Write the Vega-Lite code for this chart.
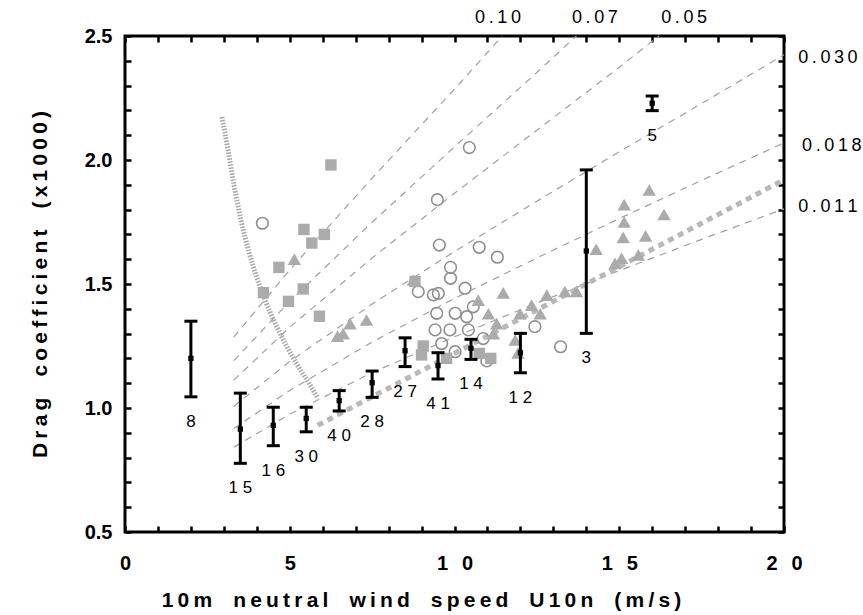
{
  "$schema": "https://vega.github.io/schema/vega-lite/v6.json",
  "width": 659,
  "height": 496,
  "autosize": {"type": "none"},
  "padding": {"left": 125, "top": 36, "right": 79, "bottom": 83},
  "background": "white",
  "config": {"view": {"stroke": "black", "strokeWidth": 3}, "font": "Liberation Sans"},
  "data": {"values": [
    {"set": "curve", "a": "0.10", "u": 3.3, "cd": 1.286}, {"set": "curve", "a": "0.10", "u": 5, "cd": 1.557}, {"set": "curve", "a": "0.10", "u": 7.5, "cd": 1.927}, {"set": "curve", "a": "0.10", "u": 10, "cd": 2.286}, {"set": "curve", "a": "0.10", "u": 11.45, "cd": 2.5},
    {"set": "curve", "a": "0.07", "u": 3.3, "cd": 1.191}, {"set": "curve", "a": "0.07", "u": 5, "cd": 1.43}, {"set": "curve", "a": "0.07", "u": 7.5, "cd": 1.749}, {"set": "curve", "a": "0.07", "u": 10, "cd": 2.053}, {"set": "curve", "a": "0.07", "u": 12.5, "cd": 2.353}, {"set": "curve", "a": "0.07", "u": 13.7, "cd": 2.5},
    {"set": "curve", "a": "0.05", "u": 3.3, "cd": 1.112}, {"set": "curve", "a": "0.05", "u": 5, "cd": 1.326}, {"set": "curve", "a": "0.05", "u": 7.5, "cd": 1.605}, {"set": "curve", "a": "0.05", "u": 10, "cd": 1.866}, {"set": "curve", "a": "0.05", "u": 12.5, "cd": 2.12}, {"set": "curve", "a": "0.05", "u": 15, "cd": 2.374}, {"set": "curve", "a": "0.05", "u": 16.2, "cd": 2.5},
    {"set": "curve", "a": "0.030", "u": 3.3, "cd": 1.006}, {"set": "curve", "a": "0.030", "u": 5, "cd": 1.188}, {"set": "curve", "a": "0.030", "u": 7.5, "cd": 1.419}, {"set": "curve", "a": "0.030", "u": 10, "cd": 1.631}, {"set": "curve", "a": "0.030", "u": 12.5, "cd": 1.834}, {"set": "curve", "a": "0.030", "u": 15, "cd": 2.033}, {"set": "curve", "a": "0.030", "u": 17.5, "cd": 2.228}, {"set": "curve", "a": "0.030", "u": 20, "cd": 2.424},
    {"set": "curve", "a": "0.018", "u": 3.3, "cd": 0.917}, {"set": "curve", "a": "0.018", "u": 5, "cd": 1.071}, {"set": "curve", "a": "0.018", "u": 7.5, "cd": 1.266}, {"set": "curve", "a": "0.018", "u": 10, "cd": 1.442}, {"set": "curve", "a": "0.018", "u": 12.5, "cd": 1.605}, {"set": "curve", "a": "0.018", "u": 15, "cd": 1.764}, {"set": "curve", "a": "0.018", "u": 17.5, "cd": 1.918}, {"set": "curve", "a": "0.018", "u": 20, "cd": 2.069},
    {"set": "curve", "a": "0.011", "u": 3.3, "cd": 0.842}, {"set": "curve", "a": "0.011", "u": 5, "cd": 0.975}, {"set": "curve", "a": "0.011", "u": 7.5, "cd": 1.143}, {"set": "curve", "a": "0.011", "u": 10, "cd": 1.287}, {"set": "curve", "a": "0.011", "u": 12.5, "cd": 1.423}, {"set": "curve", "a": "0.011", "u": 15, "cd": 1.554}, {"set": "curve", "a": "0.011", "u": 17.5, "cd": 1.68}, {"set": "curve", "a": "0.011", "u": 20, "cd": 1.803},
    {"set": "band", "u": 5.85, "cd": 0.93}, {"set": "band", "u": 20, "cd": 1.92},
    {"set": "smooth", "u": 2.944, "cd": 2.173}, {"set": "smooth", "u": 3.126, "cd": 2.04}, {"set": "smooth", "u": 3.308, "cd": 1.899}, {"set": "smooth", "u": 3.52, "cd": 1.758},
    {"set": "smooth", "u": 3.763, "cd": 1.629}, {"set": "smooth", "u": 4.006, "cd": 1.524}, {"set": "smooth", "u": 4.249, "cd": 1.435}, {"set": "smooth", "u": 4.552, "cd": 1.343},
    {"set": "smooth", "u": 4.886, "cd": 1.254}, {"set": "smooth", "u": 5.25, "cd": 1.169}, {"set": "smooth", "u": 5.615, "cd": 1.093}, {"set": "smooth", "u": 5.857, "cd": 1.04},
    {"set": "circle", "u": 4.17, "cd": 1.745}, {"set": "circle", "u": 10.45, "cd": 2.05}, {"set": "circle", "u": 9.48, "cd": 1.84}, {"set": "circle", "u": 9.54, "cd": 1.657},
    {"set": "circle", "u": 10.75, "cd": 1.648}, {"set": "circle", "u": 11.3, "cd": 1.608}, {"set": "circle", "u": 9.88, "cd": 1.567}, {"set": "circle", "u": 9.88, "cd": 1.523},
    {"set": "circle", "u": 8.9, "cd": 1.469}, {"set": "circle", "u": 9.51, "cd": 1.462}, {"set": "circle", "u": 10.32, "cd": 1.483}, {"set": "circle", "u": 9.36, "cd": 1.456},
    {"set": "circle", "u": 9.46, "cd": 1.382}, {"set": "circle", "u": 10.02, "cd": 1.382}, {"set": "circle", "u": 10.37, "cd": 1.368}, {"set": "circle", "u": 9.41, "cd": 1.315},
    {"set": "circle", "u": 9.86, "cd": 1.315}, {"set": "circle", "u": 10.42, "cd": 1.315}, {"set": "circle", "u": 9.61, "cd": 1.26}, {"set": "circle", "u": 10.02, "cd": 1.227},
    {"set": "circle", "u": 10.87, "cd": 1.28}, {"set": "circle", "u": 10.98, "cd": 1.19}, {"set": "circle", "u": 12.44, "cd": 1.328}, {"set": "circle", "u": 13.22, "cd": 1.247},
    {"set": "circle", "u": 10.57, "cd": 1.408},
    {"set": "square", "u": 6.25, "cd": 1.98}, {"set": "square", "u": 5.43, "cd": 1.72}, {"set": "square", "u": 6.05, "cd": 1.7}, {"set": "square", "u": 5.67, "cd": 1.665},
    {"set": "square", "u": 4.67, "cd": 1.567}, {"set": "square", "u": 5.41, "cd": 1.48}, {"set": "square", "u": 4.2, "cd": 1.465}, {"set": "square", "u": 4.96, "cd": 1.43},
    {"set": "square", "u": 5.9, "cd": 1.37}, {"set": "square", "u": 8.8, "cd": 1.51}, {"set": "square", "u": 9.05, "cd": 1.25}, {"set": "square", "u": 9.0, "cd": 1.214},
    {"set": "square", "u": 9.76, "cd": 1.2}, {"set": "square", "u": 10.75, "cd": 1.22}, {"set": "square", "u": 11.1, "cd": 1.2},
    {"set": "triangle", "u": 5.14, "cd": 1.6}, {"set": "triangle", "u": 6.45, "cd": 1.29}, {"set": "triangle", "u": 6.62, "cd": 1.3}, {"set": "triangle", "u": 6.83, "cd": 1.34},
    {"set": "triangle", "u": 7.33, "cd": 1.355}, {"set": "triangle", "u": 8.75, "cd": 1.516}, {"set": "triangle", "u": 10.72, "cd": 1.435}, {"set": "triangle", "u": 11.48, "cd": 1.464},
    {"set": "triangle", "u": 11.03, "cd": 1.38}, {"set": "triangle", "u": 11.28, "cd": 1.34}, {"set": "triangle", "u": 11.18, "cd": 1.3}, {"set": "triangle", "u": 11.99, "cd": 1.38},
    {"set": "triangle", "u": 12.34, "cd": 1.415}, {"set": "triangle", "u": 12.6, "cd": 1.38}, {"set": "triangle", "u": 11.84, "cd": 1.274}, {"set": "triangle", "u": 11.93, "cd": 1.222},
    {"set": "triangle", "u": 12.8, "cd": 1.455}, {"set": "triangle", "u": 13.35, "cd": 1.47}, {"set": "triangle", "u": 13.7, "cd": 1.47}, {"set": "triangle", "u": 14.3, "cd": 1.64},
    {"set": "triangle", "u": 15.91, "cd": 1.879}, {"set": "triangle", "u": 15.15, "cd": 1.82}, {"set": "triangle", "u": 15.15, "cd": 1.75}, {"set": "triangle", "u": 16.36, "cd": 1.78},
    {"set": "triangle", "u": 15.12, "cd": 1.688}, {"set": "triangle", "u": 15.8, "cd": 1.694}, {"set": "triangle", "u": 15.07, "cd": 1.604}, {"set": "triangle", "u": 14.87, "cd": 1.583},
    {"set": "triangle", "u": 15.58, "cd": 1.617},
    {"set": "bar", "u": 2.0, "cd": 1.2, "lo": 1.045, "hi": 1.35, "n": "8"},
    {"set": "bar", "u": 3.5, "cd": 0.915, "lo": 0.777, "hi": 1.06, "n": "1\u00a05"},
    {"set": "bar", "u": 4.5, "cd": 0.93, "lo": 0.848, "hi": 1.003, "n": "1\u00a06"},
    {"set": "bar", "u": 5.5, "cd": 0.958, "lo": 0.904, "hi": 1.003, "n": "3\u00a00"},
    {"set": "bar", "u": 6.5, "cd": 1.03, "lo": 0.988, "hi": 1.07, "n": "4\u00a00"},
    {"set": "bar", "u": 7.5, "cd": 1.102, "lo": 1.043, "hi": 1.149, "n": "2\u00a08"},
    {"set": "bar", "u": 8.5, "cd": 1.231, "lo": 1.167, "hi": 1.283, "n": "2\u00a07"},
    {"set": "bar", "u": 9.5, "cd": 1.171, "lo": 1.117, "hi": 1.223, "n": "4\u00a01"},
    {"set": "bar", "u": 10.5, "cd": 1.241, "lo": 1.196, "hi": 1.277, "n": "1\u00a04"},
    {"set": "bar", "u": 12.0, "cd": 1.223, "lo": 1.142, "hi": 1.301, "n": "1\u00a02"},
    {"set": "bar", "u": 14.0, "cd": 1.633, "lo": 1.301, "hi": 1.96, "n": "3"},
    {"set": "bar", "u": 16.0, "cd": 2.229, "lo": 2.199, "hi": 2.258, "n": "5"},
    {"set": "top", "u": 11.32, "cd": 2.573, "t": "0\u2009.\u20091\u20090"},
    {"set": "top", "u": 14.26, "cd": 2.573, "t": "0\u2009.\u20090\u20097"},
    {"set": "top", "u": 16.97, "cd": 2.573, "t": "0\u2009.\u20090\u20095"},
    {"set": "right", "u": 20.43, "cd": 2.411, "t": "0\u2009.\u20090\u20093\u20090"},
    {"set": "right", "u": 20.55, "cd": 2.056, "t": "0\u2009.\u20090\u20091\u20098"},
    {"set": "right", "u": 20.43, "cd": 1.81, "t": "0\u2009.\u20090\u20091\u20091"}
  ]},
  "layer": [
    {
      "transform": [{"filter": "datum.set === 'curve'"}],
      "mark": {"type": "line", "color": "#a0a0a0", "strokeWidth": 1.2, "strokeDash": [7, 6]},
      "encoding": {
        "x": {"field": "u", "type": "quantitative", "scale": {"domain": [0, 20], "nice": false, "zero": false}, "axis": null},
        "y": {"field": "cd", "type": "quantitative", "scale": {"domain": [0.5, 2.5], "nice": false, "zero": false}, "axis": null},
        "detail": {"field": "a", "type": "nominal"}
      }
    },
    {
      "transform": [{"filter": "datum.set === 'band'"}],
      "mark": {"type": "line", "color": "#b8b8b8", "strokeWidth": 5, "strokeDash": [6, 5]},
      "encoding": {
        "x": {"field": "u", "type": "quantitative", "scale": {"domain": [0, 20], "nice": false, "zero": false}, "axis": null},
        "y": {"field": "cd", "type": "quantitative", "scale": {"domain": [0.5, 2.5], "nice": false, "zero": false}, "axis": null}
      }
    },
    {
      "transform": [{"filter": "datum.set === 'smooth'"}],
      "mark": {"type": "line", "color": "#a8a8a8", "strokeWidth": 5, "strokeDash": [1.5, 1.5], "interpolate": "monotone"},
      "encoding": {
        "x": {"field": "u", "type": "quantitative", "scale": {"domain": [0, 20], "nice": false, "zero": false}, "axis": null},
        "y": {"field": "cd", "type": "quantitative", "scale": {"domain": [0.5, 2.5], "nice": false, "zero": false}, "axis": null}
      }
    },
    {
      "transform": [{"filter": "datum.set === 'circle'"}],
      "mark": {"type": "point", "shape": "circle", "filled": false, "color": "#8f8f8f", "strokeWidth": 1.6, "size": 135, "opacity": 1},
      "encoding": {
        "x": {"field": "u", "type": "quantitative", "scale": {"domain": [0, 20], "nice": false, "zero": false},
          "axis": {"orient": "bottom", "values": [0,1,2,3,4,5,6,7,8,9,10,11,12,13,14,15,16,17,18,19,20], "domain": false, "grid": false, "tickSize": -6, "tickColor": "black", "tickWidth": 2.5,
            "labelExpr": "datum.value % 5 === 0 ? (datum.value >= 10 ? slice(datum.label,0,1) + '\u2002\u2009' + slice(datum.label,1) : datum.label) : ''",
            "labelFontSize": 20, "labelFontWeight": "bold", "labelColor": "black", "labelPadding": 27, "labelFlush": false, "labelOverlap": false, "labelBaseline": "top",
            "title": "1\u20090\u2009m\u2002\u2002n\u2009e\u2009u\u2009t\u2009r\u2009a\u2009l\u2002\u2002w\u2009i\u2009n\u2009d\u2002\u2002s\u2009p\u2009e\u2009e\u2009d\u2002\u2002U\u20091\u20090\u2009n\u2002\u2002(\u2009m\u2009/\u2009s\u2009)",
            "titleFontSize": 21, "titleFontWeight": "bold", "titleColor": "black", "titleX": 296, "titleY": 68, "titleBaseline": "middle", "titleAlign": "center"}},
        "y": {"field": "cd", "type": "quantitative", "scale": {"domain": [0.5, 2.5], "nice": false, "zero": false},
          "axis": {"orient": "left", "values": [0.5,0.6,0.7,0.8,0.9,1.0,1.1,1.2,1.3,1.4,1.5,1.6,1.7,1.8,1.9,2.0,2.1,2.2,2.3,2.4,2.5], "domain": false, "grid": false, "tickSize": -6, "tickColor": "black", "tickWidth": 2.5,
            "labelExpr": "abs(datum.value*2 - round(datum.value*2)) < 0.01 ? format(datum.value, '.1f') : ''",
            "labelFontSize": 20, "labelFontWeight": "bold", "labelColor": "black", "labelPadding": 19, "labelFlush": false, "labelOverlap": false,
            "title": "D\u2009r\u2009a\u2009g\u2002\u2002c\u2009o\u2009e\u2009f\u2009f\u2009i\u2009c\u2009i\u2009e\u2009n\u2009t\u2002\u2002(\u2009x\u20091\u20090\u20090\u20090\u2009)",
            "titleFontSize": 21, "titleFontWeight": "bold", "titleColor": "black", "titleAngle": -90, "titleX": -85, "titleY": 248, "titleBaseline": "middle", "titleAlign": "center"}}
      }
    },
    {
      "transform": [{"filter": "datum.set === 'square'"}],
      "mark": {"type": "point", "shape": "square", "filled": true, "color": "#ababab", "size": 130, "opacity": 1},
      "encoding": {
        "x": {"field": "u", "type": "quantitative", "scale": {"domain": [0, 20], "nice": false, "zero": false}, "axis": null},
        "y": {"field": "cd", "type": "quantitative", "scale": {"domain": [0.5, 2.5], "nice": false, "zero": false}, "axis": null}
      }
    },
    {
      "transform": [{"filter": "datum.set === 'triangle'"}],
      "mark": {"type": "point", "shape": "triangle-up", "filled": true, "color": "#ababab", "size": 180, "opacity": 1},
      "encoding": {
        "x": {"field": "u", "type": "quantitative", "scale": {"domain": [0, 20], "nice": false, "zero": false},
          "axis": {"orient": "top", "values": [0,1,2,3,4,5,6,7,8,9,10,11,12,13,14,15,16,17,18,19,20], "domain": false, "grid": false, "labels": false, "title": "", "tickSize": -6, "tickColor": "black", "tickWidth": 2.5}},
        "y": {"field": "cd", "type": "quantitative", "scale": {"domain": [0.5, 2.5], "nice": false, "zero": false},
          "axis": {"orient": "right", "values": [0.5,0.6,0.7,0.8,0.9,1.0,1.1,1.2,1.3,1.4,1.5,1.6,1.7,1.8,1.9,2.0,2.1,2.2,2.3,2.4,2.5], "domain": false, "grid": false, "labels": false, "title": "", "tickSize": -6, "tickColor": "black", "tickWidth": 2.5}}
      }
    },
    {
      "transform": [{"filter": "datum.set === 'bar'"}],
      "mark": {"type": "rule", "color": "black", "strokeWidth": 3},
      "encoding": {
        "x": {"field": "u", "type": "quantitative", "scale": {"domain": [0, 20], "nice": false, "zero": false}, "axis": null},
        "y": {"field": "lo", "type": "quantitative", "scale": {"domain": [0.5, 2.5], "nice": false, "zero": false}, "axis": null},
        "y2": {"field": "hi"}
      }
    },
    {
      "transform": [{"filter": "datum.set === 'bar'"}],
      "mark": {"type": "point", "shape": "M-1,0L1,0", "filled": false, "color": "black", "strokeWidth": 3, "size": 169, "opacity": 1},
      "encoding": {
        "x": {"field": "u", "type": "quantitative", "scale": {"domain": [0, 20], "nice": false, "zero": false}, "axis": null},
        "y": {"field": "hi", "type": "quantitative", "scale": {"domain": [0.5, 2.5], "nice": false, "zero": false}, "axis": null}
      }
    },
    {
      "transform": [{"filter": "datum.set === 'bar'"}],
      "mark": {"type": "point", "shape": "M-1,0L1,0", "filled": false, "color": "black", "strokeWidth": 3, "size": 169, "opacity": 1},
      "encoding": {
        "x": {"field": "u", "type": "quantitative", "scale": {"domain": [0, 20], "nice": false, "zero": false}, "axis": null},
        "y": {"field": "lo", "type": "quantitative", "scale": {"domain": [0.5, 2.5], "nice": false, "zero": false}, "axis": null}
      }
    },
    {
      "transform": [{"filter": "datum.set === 'bar'"}],
      "mark": {"type": "point", "shape": "square", "filled": true, "color": "black", "size": 28, "opacity": 1},
      "encoding": {
        "x": {"field": "u", "type": "quantitative", "scale": {"domain": [0, 20], "nice": false, "zero": false}, "axis": null},
        "y": {"field": "cd", "type": "quantitative", "scale": {"domain": [0.5, 2.5], "nice": false, "zero": false}, "axis": null}
      }
    },
    {
      "transform": [{"filter": "datum.set === 'bar'"}],
      "mark": {"type": "text", "fontSize": 17, "dy": 25, "baseline": "middle", "align": "center", "color": "black"},
      "encoding": {
        "x": {"field": "u", "type": "quantitative", "scale": {"domain": [0, 20], "nice": false, "zero": false}, "axis": null},
        "y": {"field": "lo", "type": "quantitative", "scale": {"domain": [0.5, 2.5], "nice": false, "zero": false}, "axis": null},
        "text": {"field": "n", "type": "nominal"}
      }
    },
    {
      "transform": [{"filter": "datum.set === 'top'"}],
      "mark": {"type": "text", "fontSize": 18, "baseline": "middle", "align": "center", "color": "black"},
      "encoding": {
        "x": {"field": "u", "type": "quantitative", "scale": {"domain": [0, 20], "nice": false, "zero": false}, "axis": null},
        "y": {"field": "cd", "type": "quantitative", "scale": {"domain": [0.5, 2.5], "nice": false, "zero": false}, "axis": null},
        "text": {"field": "t", "type": "nominal"}
      }
    },
    {
      "transform": [{"filter": "datum.set === 'right'"}],
      "mark": {"type": "text", "fontSize": 18, "baseline": "middle", "align": "left", "color": "black"},
      "encoding": {
        "x": {"field": "u", "type": "quantitative", "scale": {"domain": [0, 20], "nice": false, "zero": false}, "axis": null},
        "y": {"field": "cd", "type": "quantitative", "scale": {"domain": [0.5, 2.5], "nice": false, "zero": false}, "axis": null},
        "text": {"field": "t", "type": "nominal"}
      }
    }
  ],
  "resolve": {"axis": {"x": "independent", "y": "independent"}}
}
